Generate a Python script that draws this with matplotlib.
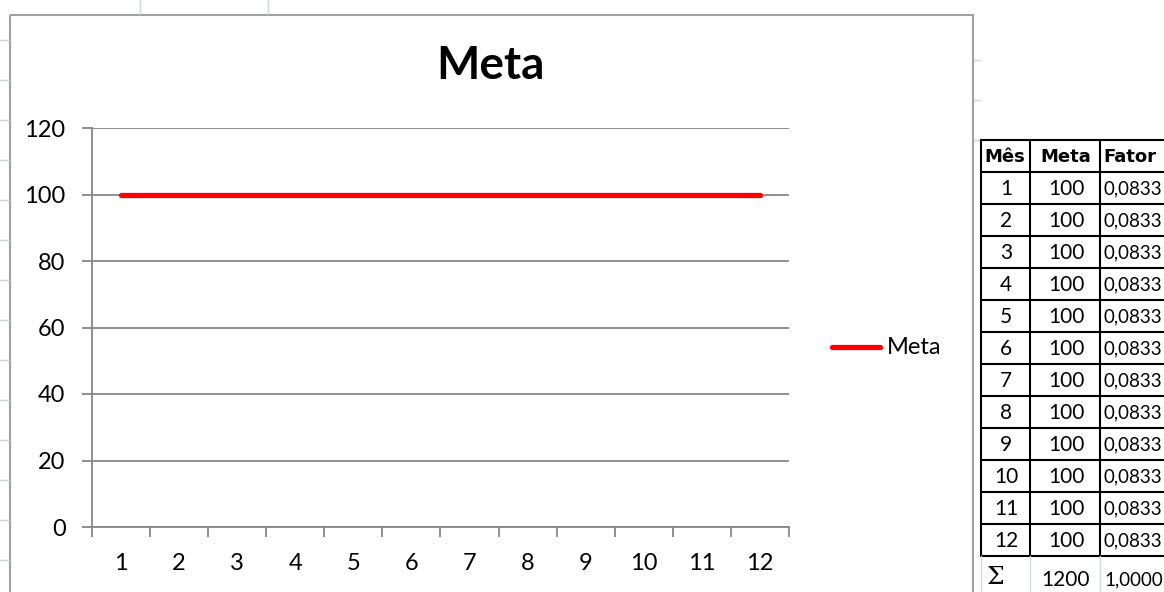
import matplotlib
matplotlib.use("Agg")
import matplotlib.pyplot as plt
from matplotlib.patches import Rectangle

# data
meses = [1, 2, 3, 4, 5, 6, 7, 8, 9, 10, 11, 12]
meta = [100, 100, 100, 100, 100, 100, 100, 100, 100, 100, 100, 100]
fator = ["0,0833"] * 12
y_ticks = [0, 20, 40, 60, 80, 100, 120]
total_meta = "1200"
total_fator = "1,0000"

W, H = 1164, 592
FONT = ["Lato", "DejaVu Sans"]
GRID = "#868686"

fig = plt.figure(figsize=(W / 100, H / 100), dpi=100)
fig.patch.set_facecolor("white")

# overlay in pixel coordinates for the sheet, chart frame and table
bg = fig.add_axes([0, 0, 1, 1], zorder=0)
bg.set_xlim(0, W)
bg.set_ylim(H, 0)
bg.axis("off")

# faint sheet gridline stubs
for yy in range(40, H, 40):
    bg.plot([0, 9], [yy, yy], color="#c8d2e0", lw=1)
for xx in [140, 268]:
    bg.plot([xx, xx], [0, 14], color="#c8d2e0", lw=1)
for yy in [60, 100, 140]:
    bg.plot([974, 980], [yy, yy], color="#c8d2e0", lw=1)

# chart frame
bg.add_patch(Rectangle((10, 15), 963, 600, fill=False, ec="#a0a0a0", lw=1.5))

bg.text(490, 66, "Meta", ha="center", va="center", fontsize=33,
        fontweight="bold", family=FONT)

# legend
bg.plot([832, 880], [347, 347], color="#ff0000", lw=3.8, solid_capstyle="round")
bg.text(887, 348, "Meta", ha="left", va="center", fontsize=17, family=FONT)

# table
col_x = [981, 1030, 1100, 1170]
row_top = 140
row_h = 32
row_y = [row_top, row_top + row_h] + [row_top + row_h * (i + 2) for i in range(len(meses))]
bottom = row_y[-1]
for yy in row_y:
    bg.plot([col_x[0], col_x[-1]], [yy, yy], color="black", lw=1.5)
for xx in col_x[:-1]:
    bg.plot([xx, xx], [row_top, bottom], color="black", lw=1.5)
for xx in col_x[:-1]:
    bg.plot([xx, xx], [bottom, H], color="#d0d8e4", lw=1)

for xc, txt, ha in [(1005, "Mês", "center"), (1066, "Meta", "center"), (1103, "Fator", "left")]:
    bg.text(xc, 157, txt, ha=ha, va="center", fontsize=13,
            fontweight="bold", family=["DejaVu Sans"])
for i, (m, v, f) in enumerate(zip(meses, meta, fator)):
    yc = row_top + row_h * (i + 1) + row_h / 2 + 1
    bg.text(1006, yc, str(m), ha="center", va="center", fontsize=15, family=FONT)
    bg.text(1066, yc, str(v), ha="center", va="center", fontsize=15, family=FONT)
    bg.text(1104, yc, f, ha="left", va="center", fontsize=13.5, family=FONT)
bg.text(996, 577, "Σ", ha="center", va="center", fontsize=18, family=["DejaVu Serif"])
bg.text(1066, 580, total_meta, ha="center", va="center", fontsize=15, family=FONT)
bg.text(1104, 580, total_fator, ha="left", va="center", fontsize=13.5, family=FONT)

# plot area
ax = fig.add_axes([92 / W, (H - 527) / H, 697 / W, 399 / H], zorder=1)
ax.patch.set_alpha(0)
ax.plot(meses, meta, color="#ff0000", lw=3.8, solid_capstyle="round")
ax.set_xlim(0.5, 12.5)
ax.set_ylim(0, 120)
ax.set_yticks(y_ticks)
ax.set_yticklabels([str(t) for t in y_ticks])
ax.yaxis.grid(True, color=GRID, lw=1.3)
ax.set_axisbelow(True)

ax.set_xticks([x + 0.5 for x in range(0, 13)])
ax.set_xticklabels([])
ax.set_xticks(meses, minor=True)
ax.set_xticklabels([str(m) for m in meses], minor=True)
ax.tick_params(axis="x", which="major", direction="out", length=7, color=GRID, width=1.3)
ax.tick_params(axis="x", which="minor", length=0, pad=19)
ax.tick_params(axis="y", direction="out", length=7, color=GRID, width=1.3, pad=12)
for lab in ax.get_xticklabels(minor=True) + ax.get_yticklabels():
    lab.set_fontsize(17)
    lab.set_family(FONT)

for s in ["top", "right"]:
    ax.spines[s].set_visible(False)
for s in ["left", "bottom"]:
    ax.spines[s].set_color(GRID)
    ax.spines[s].set_linewidth(1.3)

fig.savefig("out.png", dpi=100)
